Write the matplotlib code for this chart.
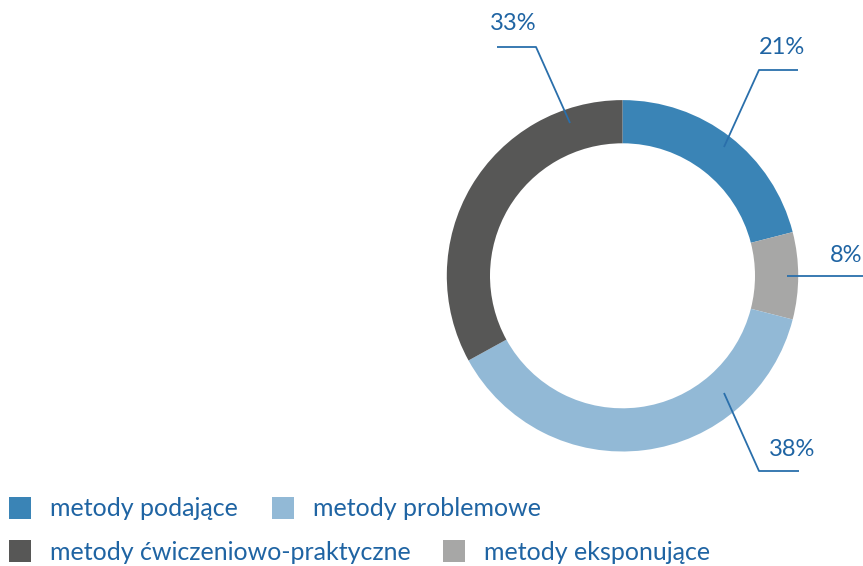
import matplotlib
matplotlib.use('Agg')
import matplotlib.pyplot as plt
from matplotlib.patches import Rectangle

labels = ['metody podające', 'metody eksponujące', 'metody problemowe', 'metody ćwiczeniowo-praktyczne']
values = [21, 8, 38, 33]
colors = ['#3a84b6', '#a7a7a6', '#92b9d6', '#575756']
pct_labels = ['21%', '8%', '38%', '33%']

text_color = '#1f64a3'
line_color = '#2a6fab'

W, H = 863, 566
plt.rcParams['font.family'] = ['Lato', 'DejaVu Sans']

fig = plt.figure(figsize=(W / 100, H / 100), dpi=100)
ax = fig.add_axes([0, 0, 1, 1])

cx, cy, R = 622.5, H - 275.8, 175.7
ax.pie(values, colors=colors, startangle=90, counterclock=False,
       center=(cx, cy), radius=R, frame=True,
       wedgeprops=dict(width=R - 132.5, linewidth=0))
ax.set_xlim(0, W)
ax.set_ylim(0, H)
ax.axis('off')

# leader lines (pixel coords from top-left) and label positions
leaders = [
    [(724, 147), (759, 70), (798, 70)],
    [(787, 276), (863, 276)],
    [(724, 393), (759, 471), (799, 471)],
    [(570, 123), (536, 47), (497, 47)],
]
label_pos = [(782, 48), (846, 256), (792, 450), (513, 24)]

for pts, txt, (lx, ly) in zip(leaders, pct_labels, label_pos):
    xs = [p[0] for p in pts]
    ys = [H - p[1] for p in pts]
    ax.plot(xs, ys, color=line_color, lw=1.3, solid_capstyle='butt')
    ax.text(lx, H - ly, txt, color=text_color, fontsize=17,
            ha='center', va='center')

# legend
legend_order = [0, 2, 3, 1]
legend_pos = [(9, 508), (272, 508), (9, 551), (443, 551)]
for i, (lx, ly) in zip(legend_order, legend_pos):
    ax.add_patch(Rectangle((lx, H - ly - 11), 22, 22, color=colors[i], lw=0))
    ax.text(lx + 41, H - ly - 1, labels[i], color=text_color, fontsize=18,
            ha='left', va='center')

fig.savefig('out.png', dpi=100)
